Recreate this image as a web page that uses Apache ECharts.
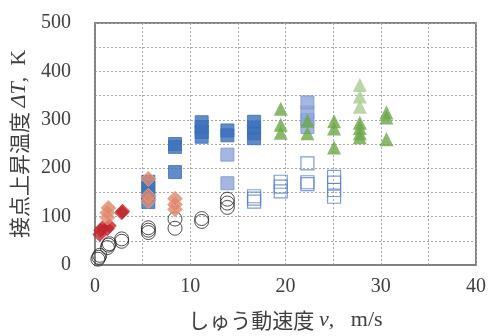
<!DOCTYPE html>
<html><head><meta charset="utf-8">
<script src="https://cdn.jsdelivr.net/npm/echarts@6/dist/echarts.min.js"></script>
<style>html,body{margin:0;padding:0;background:#fff}#c{width:489px;height:336px}</style>
</head><body><div id="c"></div>
<script>
const xTicks = [0, 10, 20, 30, 40];
const yTicks = [0, 100, 200, 300, 400, 500];
const openCircles = [[0.3,12],[0.4,16],[0.5,20],[1.3,36],[1.4,41],[1.5,44],[2.8,49],[2.8,54],[5.6,67],[5.6,72],[5.6,77],[8.4,76],[8.4,95],[11.2,90],[11.2,96],[13.9,119],[13.9,128],[13.9,136]];
const redDiamonds = [[0.5,63],[0.6,72],[0.8,77],[1.3,75],[1.5,81],[2.8,108],[2.9,111]];
const salmonDiamonds = [[1.3,98],[1.3,108],[1.4,118],[5.6,132],[5.6,143],[5.6,178],[8.4,115],[8.4,125],[8.4,137]];
const blueSquares = [[5.6,130],[5.6,145],[5.6,160],[5.6,172],[8.4,192],[8.4,244],[8.4,250],[11.2,265],[11.2,275],[11.2,285],[11.2,295],[13.9,268],[13.9,278],[16.7,262],[16.7,272],[16.7,284],[16.7,296]];
const lightBlueSquares = [[13.9,169],[13.9,228],[22.3,285],[22.3,300],[22.3,315],[22.3,336]];
const openSquares = [[16.7,131],[16.7,137],[16.7,142],[19.5,152],[19.5,162],[19.5,172],[22.3,167],[22.3,171],[22.3,210],[25.1,141],[25.1,155],[25.1,170],[25.1,182]];
const greenTriangles = [[19.5,273],[19.5,290],[19.5,323],[22.3,272],[22.3,298],[25.1,243],[25.1,282],[25.1,297],[27.8,264],[27.8,272],[27.8,283],[27.8,294],[30.6,260],[30.6,305],[30.6,315]];
const lightGreenTriangles = [[27.8,327],[27.8,348],[27.8,372]];

const chart = echarts.init(document.getElementById('c'), null, {renderer:'canvas'});
const gridLine = {show:true, lineStyle:{color:'#a6a6a6', type:[2,2], width:1}};
const serif = '"Liberation Serif","Times New Roman",serif';
const jp = '"Noto Sans CJK JP",sans-serif';
const richName = {
  a:{fontFamily:jp, fontSize:21, color:'#404040'},
  b:{fontFamily:serif, fontStyle:'italic', fontSize:22, color:'#404040'},
  c:{fontFamily:serif, fontSize:22, color:'#404040'}
};
function sc(name, data, symbol, size, style){
  return {type:'scatter', name, data, symbol, symbolSize:size, itemStyle:style, silent:true};
}
chart.setOption({
  animation:false,
  grid:{left:95, right:10, top:23, bottom:70, show:true, borderColor:'#595959', borderWidth:1.5, backgroundColor:'#fff'},
  xAxis:{type:'value', min:0, max:40, interval:5,
    axisLine:{show:true, lineStyle:{color:'#808080', width:1.5}}, axisTick:{show:false},
    splitLine:gridLine,
    axisLabel:{margin:12, color:'#404040', fontFamily:serif, fontSize:20,
      formatter:v=>xTicks.includes(v)?String(v):''},
    name:'{a|しゅう動速度 }{b|v}{c|,   m/s}', nameLocation:'middle', nameGap:44,
    nameTextStyle:{rich:richName}
  },
  yAxis:{type:'value', min:0, max:500, interval:50,
    axisLine:{show:true, lineStyle:{color:'#808080', width:1.5}}, axisTick:{show:false},
    splitLine:gridLine,
    axisLabel:{margin:24, color:'#404040', fontFamily:serif, fontSize:20,
      formatter:v=>yTicks.includes(v)?String(v):''},
    name:'{a|接点上昇温度 }{b|ΔT}{c|,  K}', nameLocation:'middle', nameGap:61, nameRotate:90,
    nameTextStyle:{rich:richName}
  },
  series:[
    sc('blue', blueSquares, 'rect', 13, {color:'#3B6FBA', borderColor:'#3B6FBA', borderWidth:1}),
    sc('lightblue', lightBlueSquares, 'rect', 13, {color:'#8EA5DA', borderColor:'#7b95d2', borderWidth:1}),
    sc('open', openSquares, 'rect', 13, {color:'rgba(0,0,0,0)', borderColor:'#5B84D0', borderWidth:1.2}),
    sc('green', greenTriangles, 'triangle', 14, {color:'#6DA74A'}),
    sc('lightgreen', lightGreenTriangles, 'triangle', 14, {color:'#A9CC8E'}),
    sc('circle', openCircles, 'circle', 14, {color:'rgba(0,0,0,0)', borderColor:'#222', borderWidth:1}),
    sc('red', redDiamonds, 'diamond', 15, {color:'#C0262D'}),
    sc('salmon', salmonDiamonds, 'diamond', 15, {color:'#DF876B', borderColor:'#e9a48c', borderWidth:1})
  ]
});
</script></body></html>
